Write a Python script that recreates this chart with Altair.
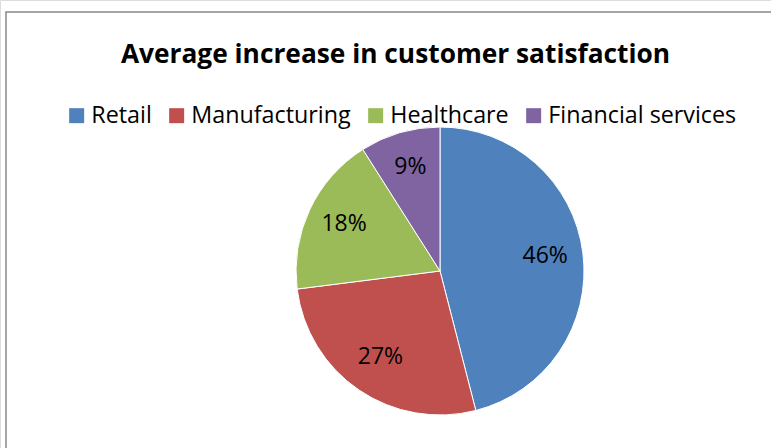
import altair as alt
import pandas as pd

categories = ["Retail", "Manufacturing", "Healthcare", "Financial services"]
values = [46, 27, 18, 9]
labels = ["46%", "27%", "18%", "9%"]
colors = ["#4F81BD", "#C0504D", "#9BBB59", "#8064A2"]
title_text = "Average increase in customer satisfaction"

df = pd.DataFrame({
    "category": categories,
    "value": values,
    "label": labels,
    "order": list(range(len(categories))),
})

CX, CY = 440, 271
FONT = "Open Sans"

theta = alt.Theta("value:Q", stack=True)
order = alt.Order("order:Q", sort="ascending")

pie = alt.Chart(df).mark_arc(outerRadius=144, stroke="white", strokeWidth=1).encode(
    theta=theta,
    order=order,
    color=alt.Color(
        "category:N",
        sort=categories,
        scale=alt.Scale(domain=categories, range=colors),
        legend=alt.Legend(
            title=None,
            orient="none",
            direction="horizontal",
            legendX=65,
            legendY=104,
            symbolType="square",
            symbolSize=225,
            symbolStrokeWidth=0,
            labelFont=FONT,
            labelFontSize=23.3,
            labelColor="black",
            labelOffset=3,
            labelLimit=0,
            columnPadding=13,
            padding=0,
        ),
    ),
    x=alt.value(CX),
    y=alt.value(CY),
)

text = alt.Chart(df).mark_text(radius=106, font=FONT, fontSize=23, color="black").encode(
    theta=theta,
    order=order,
    text="label:N",
    x=alt.value(CX),
    y=alt.value(CY - 2),
)

title = alt.Chart(pd.DataFrame({"t": [title_text]})).mark_text(
    font=FONT, fontSize=26.3, fontWeight="bold", color="black", align="center", baseline="alphabetic"
).encode(text="t:N", x=alt.value(395.5), y=alt.value(63))

border = alt.Chart(pd.DataFrame({"t": [0]})).mark_rect(
    fill=None, stroke="#888888", strokeWidth=1.5
).encode(x=alt.value(6), y=alt.value(12), x2=alt.value(900), y2=alt.value(900))

chart = alt.layer(border, pie, text, title).properties(
    width=771, height=448, autosize=alt.AutoSizeParams(type="none"), padding=0
).configure_view(stroke=None).configure(background="white")

chart.save("out.html", embed_options={"renderer": "svg", "actions": False})
